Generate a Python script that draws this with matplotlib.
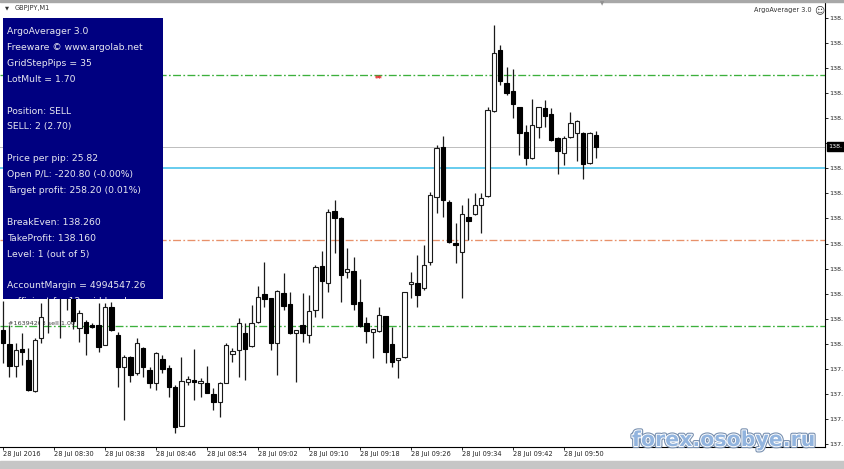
import matplotlib
matplotlib.use('Agg')
import matplotlib.pyplot as plt
from matplotlib.patches import Rectangle
import matplotlib.patheffects as pe
import numpy as np

# ---------------- data ----------------
opens = [138.034, 138.015, 137.984, 138.008, 137.993, 137.949, 138.023, 138.082, 138.105, 138.085,
         138.125, 138.095, 138.037, 138.046, 138.041, 138.041, 138.014, 138.066, 138.027, 137.983,
         137.997, 137.974, 138.009, 137.979, 137.961, 137.994, 137.981, 137.955, 137.901, 137.962,
         137.965, 137.961, 137.961, 137.945, 137.934, 137.961, 138.001, 138.007, 138.030, 138.012,
         138.046, 138.085, 138.079, 138.016, 138.086, 138.071, 138.030, 138.041, 138.027, 138.062,
         138.124, 138.100, 138.200, 138.191, 138.115, 138.117, 138.073, 138.044, 138.032, 138.033,
         138.054, 138.015, 137.993, 137.997, 138.099, 138.100, 138.093, 138.129, 138.220, 138.290,
         138.213, 138.156, 138.143, 138.192, 138.196, 138.209, 138.221, 138.340, 138.425, 138.379,
         138.368, 138.345, 138.311, 138.274, 138.318, 138.344, 138.336, 138.302, 138.281, 138.304,
         138.309, 138.309, 138.267, 138.306]
highs = [138.075, 138.041, 138.016, 138.030, 138.009, 138.023, 138.072, 138.104, 138.115, 138.120,
         138.135, 138.110, 138.062, 138.048, 138.044, 138.072, 138.072, 138.073, 138.032, 138.000,
         137.998, 138.023, 138.011, 137.983, 138.004, 138.000, 137.986, 137.958, 137.997, 137.970,
         138.008, 137.967, 137.984, 137.954, 137.962, 138.016, 138.009, 138.051, 138.044, 138.069,
         138.096, 138.129, 138.079, 138.090, 138.114, 138.087, 138.035, 138.086, 138.083, 138.125,
         138.145, 138.203, 138.216, 138.192, 138.149, 138.136, 138.106, 138.053, 138.036, 138.066,
         138.054, 138.039, 137.996, 138.087, 138.115, 138.139, 138.153, 138.227, 138.292, 138.305,
         138.216, 138.184, 138.209, 138.218, 138.225, 138.225, 138.345, 138.460, 138.432, 138.401,
         138.398, 138.346, 138.320, 138.357, 138.346, 138.355, 138.344, 138.304, 138.305, 138.338,
         138.327, 138.310, 138.310, 138.312]
lows = [137.988, 137.969, 137.969, 137.986, 137.950, 137.948, 138.016, 138.030, 138.080, 138.023,
        138.062, 138.036, 138.018, 138.000, 138.037, 138.004, 138.013, 138.033, 137.955, 137.909,
        137.962, 137.972, 137.969, 137.954, 137.951, 137.974, 137.941, 137.891, 137.900, 137.958,
        137.937, 137.941, 137.946, 137.923, 137.913, 137.960, 137.990, 137.969, 137.965, 138.011,
        138.044, 138.066, 138.007, 137.972, 138.062, 138.029, 137.962, 138.018, 138.016, 138.053,
        138.051, 138.087, 138.142, 138.073, 138.107, 138.062, 138.039, 138.016, 137.995, 138.032,
        137.988, 137.983, 137.967, 137.995, 138.079, 138.066, 138.090, 138.125, 138.198, 138.192,
        138.156, 138.128, 138.079, 138.160, 138.195, 138.170, 138.220, 138.339, 138.376, 138.362,
        138.330, 138.278, 138.265, 138.273, 138.302, 138.318, 138.298, 138.252, 138.265, 138.302,
        138.270, 138.245, 138.266, 138.274]
closes = [138.016, 137.984, 138.007, 138.004, 137.951, 138.020, 138.053, 138.097, 138.088, 138.110,
          138.095, 138.047, 138.058, 138.030, 138.039, 138.011, 138.066, 138.034, 137.983, 137.997,
          137.972, 138.016, 137.983, 137.961, 138.002, 137.980, 137.955, 137.899, 137.963, 137.966,
          137.962, 137.963, 137.947, 137.934, 137.961, 138.014, 138.005, 138.044, 138.008, 138.044,
          138.080, 138.078, 138.016, 138.089, 138.068, 138.030, 138.034, 138.030, 138.061, 138.122,
          138.103, 138.199, 138.191, 138.111, 138.119, 138.071, 138.040, 138.033, 138.036, 138.055,
          138.004, 137.990, 137.995, 138.087, 138.101, 138.083, 138.125, 138.223, 138.288, 138.216,
          138.157, 138.153, 138.196, 138.186, 138.209, 138.218, 138.341, 138.421, 138.382, 138.365,
          138.350, 138.309, 138.274, 138.320, 138.345, 138.333, 138.299, 138.284, 138.302, 138.323,
          138.326, 138.266, 138.309, 138.290]

x_tick_bars = [0, 8, 16, 24, 32, 40, 48, 56, 64, 72, 80, 88]
x_tick_labels = ["28 Jul 2016", "28 Jul 08:30", "28 Jul 08:38", "28 Jul 08:46",
                 "28 Jul 08:54", "28 Jul 09:02", "28 Jul 09:10", "28 Jul 09:18",
                 "28 Jul 09:26", "28 Jul 09:34", "28 Jul 09:42", "28 Jul 09:50"]
y_ticks = [138.470, 138.435, 138.400, 138.365, 138.330, 138.295, 138.260, 138.225, 138.190,
           138.155, 138.120, 138.085, 138.050, 138.015, 137.980, 137.945, 137.910, 137.875]
# the reference shows the price scale cut at the window edge: only "138." / "137."
y_tick_labels = ["138.", "138.", "138.", "138.", "138.", "", "138.", "138.", "138.",
                 "138.", "138.", "138.", "138.", "138.", "137.", "137.", "137.", "137."]

grid_levels = [138.39, 138.04]
take_profit = 138.16
break_even = 138.26
bid = 138.29
bid_label = "138."
sell_marker_bar = 59
order_label = "#16394203 sell 1.00"

panel_lines = ["ArgoAverager 3.0", "Freeware \u00a9 www.argolab.net", "GridStepPips = 35",
               "LotMult = 1.70", "", "Position: SELL", "SELL: 2 (2.70)", "",
               "Price per pip: 25.82", "Open P/L: -220.80 (-0.00%)",
               "Target profit: 258.20 (0.01%)", "", "BreakEven: 138.260",
               "TakeProfit: 138.160", "Level: 1 (out of 5)", "",
               "AccountMargin = 4994547.26", "sufficient for 12 grid levels"]

# ---------------- figure ----------------
W, H = 844, 469
fig = plt.figure(figsize=(W / 100, H / 100), dpi=100)
fig.patch.set_facecolor('white')


def fx(px):
    return px / W


def fy(py):
    return 1 - py / H


ax = fig.add_axes([0, fy(447), fx(825), (447 - 3) / H])
ax.set_facecolor('white')
ax.set_xlim(-0.47, 128.94)
ax.set_ylim(137.8713, 138.4904)

o = np.array(opens); h = np.array(highs); l = np.array(lows); c = np.array(closes)
x = np.arange(len(o))
up = c >= o
ax.vlines(x, l, h, color='#1a1a1a', lw=0.9, zorder=3)
bottom = np.minimum(o, c)
height = np.abs(c - o)
ax.bar(x[up], height[up], bottom=bottom[up], width=0.68, facecolor='white',
       edgecolor='#1a1a1a', lw=0.8, zorder=4)
ax.bar(x[~up], height[~up], bottom=bottom[~up], width=0.68, facecolor='black',
       edgecolor='black', lw=0.8, zorder=4)

dd = (0, (6, 1.8, 1.3, 1.8))
for g in grid_levels:
    ax.axhline(g, color='#3cb03c', lw=0.95, linestyle=dd, zorder=2)
ax.axhline(take_profit, color='#e8916a', lw=0.95, linestyle=dd, zorder=2)
ax.axhline(break_even, color='#66ccee', lw=1.4, zorder=2)
ax.axhline(bid, color='#bdbdbd', lw=0.7, zorder=2)

ax.text(sell_marker_bar, grid_levels[0], "**", color='#e02020', fontsize=5.5,
        ha='center', va='top', fontweight='bold', zorder=6)
ax.text(0.8, grid_levels[1], order_label, color='#404040', fontsize=4.6,
        ha='left', va='bottom', zorder=2)

ax.yaxis.tick_right()
ax.set_yticks(y_ticks)
ax.set_yticklabels(y_tick_labels, fontsize=4.6, color='#222222')
ax.tick_params(axis='y', direction='out', length=2.2, width=0.6, pad=1.2)
ax.set_xticks(x_tick_bars)
ax.set_xticklabels(x_tick_labels, fontsize=4.8, ha='left', color='#222222')
ax.tick_params(axis='x', direction='out', length=2.2, width=0.6, pad=1.0)
for s in ['top', 'left']:
    ax.spines[s].set_visible(False)
ax.spines['right'].set_linewidth(0.8)
ax.spines['bottom'].set_linewidth(0.8)

ax.annotate(bid_label, xy=(1, bid), xycoords=('axes fraction', 'data'),
            xytext=(2.6, 0), textcoords='offset points', fontsize=4.6, color='white',
            va='center', ha='left', annotation_clip=False, zorder=10,
            bbox=dict(boxstyle='square,pad=0.3', fc='black', ec='black'))

# ---------------- chrome ----------------
fig.patches.append(Rectangle((0, fy(2)), 1, 2 / H, transform=fig.transFigure,
                             color='#a8a8a8', zorder=1))
fig.patches.append(Rectangle((0, 0), 1, (469 - 461) / H, transform=fig.transFigure,
                             color='#c6c6c6', zorder=1))
fig.text(fx(602), fy(4), '\u25bc', fontsize=4, color='#909090', ha='center', va='center')
fig.text(fx(5), fy(8), '\u25bc', fontsize=3.8, color='#333333', ha='left', va='center')
fig.text(fx(15), fy(8), 'GBPJPY,M1', fontsize=4.8, color='#333333', ha='left', va='center')
fig.text(fx(812), fy(10), 'ArgoAverager 3.0', fontsize=4.7, color='#333333', ha='right', va='center')
fig.text(fx(814), fy(10), '\u263a', fontsize=7, color='#333333', ha='left', va='center')

# info panel
panel = Rectangle((fx(3), fy(299)), fx(163 - 3), (299 - 18) / H, transform=fig.transFigure,
                  facecolor='#000080', edgecolor='none', zorder=2)
fig.patches.append(panel)
for i, line in enumerate(panel_lines):
    if not line:
        continue
    t = fig.text(fx(7.3), fy(34.1 + 15.9 * i), line, fontsize=6.7, color='#e8e8f0',
                 ha='left', va='baseline', zorder=3)
    t.set_clip_path(panel)

# watermark
fig.text(fx(632), fy(446), 'forex.osobye.ru', fontsize=14.8, fontweight='bold',
         color='#92b4de', ha='left', va='baseline', zorder=5,
         path_effects=[pe.Stroke(linewidth=3, foreground='#7890b0'),
                       pe.Stroke(linewidth=1.4, foreground='white'), pe.Normal()])

fig.savefig('out.png', dpi=100)
